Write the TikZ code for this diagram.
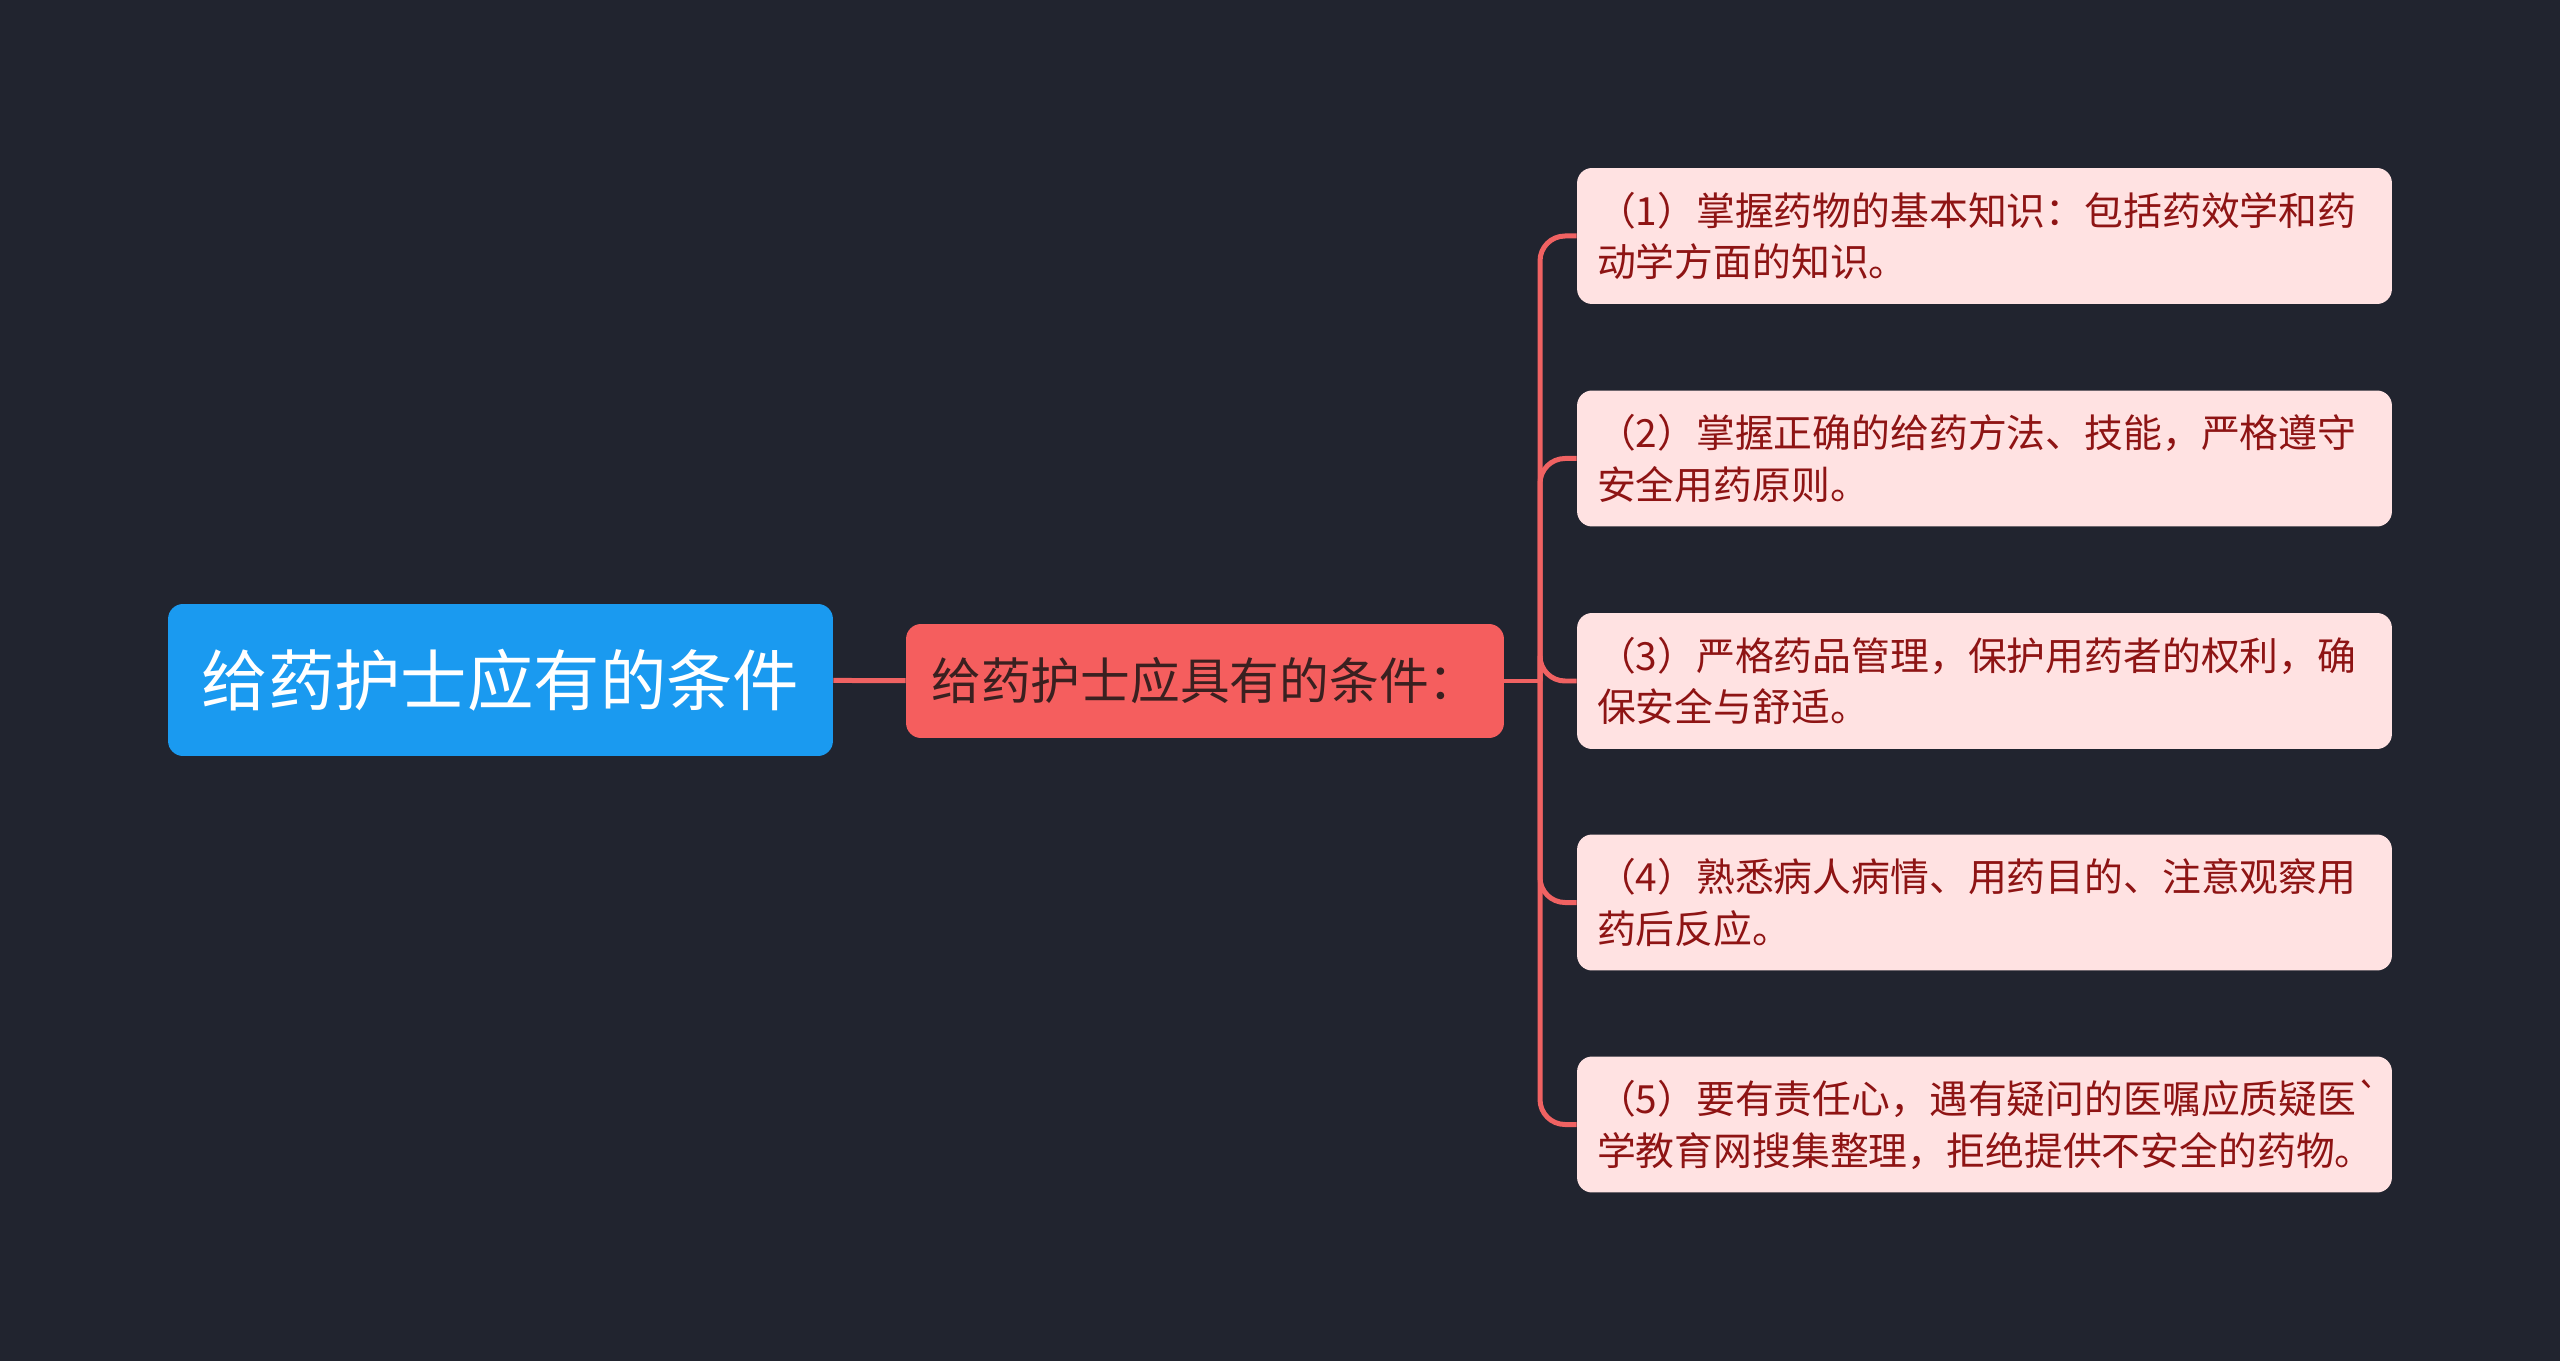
\documentclass[tikz,border=0pt]{standalone}
\usepackage{fontspec}
\setmainfont{Noto Sans CJK SC}
\usepackage{tikz}
\usetikzlibrary{positioning,calc}
\definecolor{bgdark}{HTML}{21242F}
\definecolor{rootblue}{HTML}{1A9AF0}
\definecolor{midred}{HTML}{F55E5E}
\definecolor{midtext}{HTML}{3A2020}
\definecolor{leafpink}{HTML}{FFE2E2}
\definecolor{leaftext}{HTML}{8E1414}
\definecolor{linkred}{HTML}{F06262}

\begin{document}
\begin{tikzpicture}[x=0.02cm, y=-0.02cm,
  rootbox/.style={fill=rootblue, rounded corners=0.3cm, minimum width=13.3cm,
    minimum height=3.04cm, text=white, font=\fontsize{37.8}{44}\selectfont},
  midbox/.style={fill=midred, rounded corners=0.3cm, minimum width=11.96cm,
    minimum height=2.28cm, text=midtext, font=\fontsize{28.3}{34}\selectfont},
  leafbox/.style={fill=leafpink, rounded corners=0.3cm, minimum height=2.72cm,
    text width=15.5cm, inner xsep=0.4cm, align=left, text=leaftext,
    font=\fontsize{22.1}{29.5}\selectfont},
  link/.style={linkred, line width=0.1cm}]
  % background
  \fill[bgdark] (0,0) rectangle (2560,1361);
  \useasboundingbox (0,0) rectangle (2560,1361);
  % nodes
  \node[rootbox] (root) at (500.5,680) {给药护士应有的条件};
  \node[midbox] (mid) at (1205,681) {给药护士应具有的条件：};
  \node[leafbox] (leaf1) at (1984.5,236) {（1）掌握药物的基本知识：包括药效学和药\\动学方面的知识。};
  \node[leafbox] (leaf2) at (1984.5,458.5) {（2）掌握正确的给药方法、技能，严格遵守\\安全用药原则。};
  \node[leafbox] (leaf3) at (1984.5,681) {（3）严格药品管理，保护用药者的权利，确\\保安全与舒适。};
  \node[leafbox] (leaf4) at (1984.5,902.5) {（4）熟悉病人病情、用药目的、注意观察用\\药后反应。};
  \node[leafbox] (leaf5) at (1984.5,1124.5) {（5）要有责任心，遇有疑问的医嘱应质疑医\textasciigrave\\学教育网搜集整理，拒绝提供不安全的药物。};
  % links
  \coordinate (trunk) at (1540,681);
  \draw[link] (root) -- (mid);
  \draw[link] (mid) -- (trunk);
  \foreach \i in {1,...,5}
    \draw[link, rounded corners=0.5cm] (trunk) |- (leaf\i.west);
\end{tikzpicture}
\end{document}
